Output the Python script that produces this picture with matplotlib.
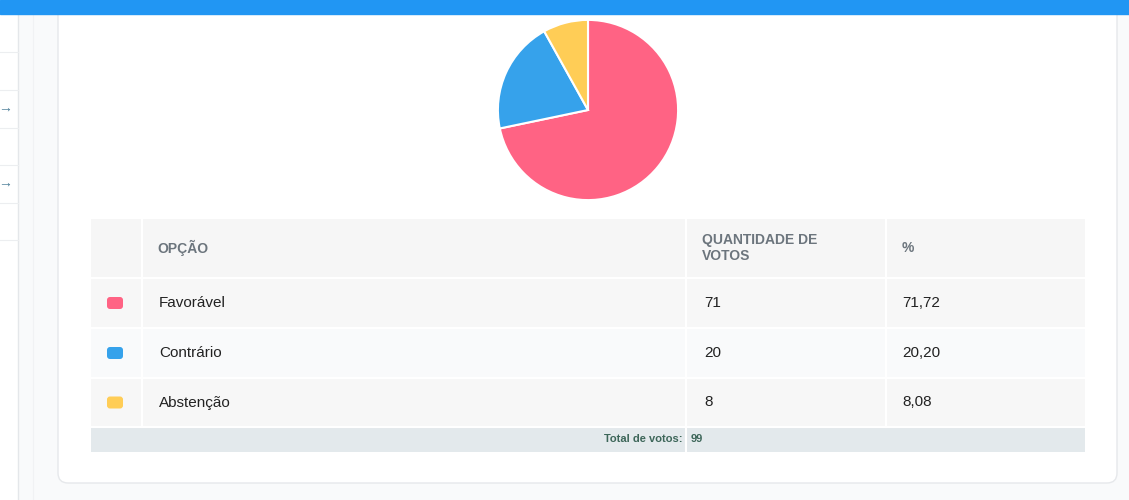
import matplotlib.pyplot as plt
from matplotlib.patches import Rectangle, FancyBboxPatch

# dados da votação
opcoes = ['Favorável', 'Contrário', 'Abstenção']
votos = [71, 20, 8]
cores = ['#FF6384', '#36A2EB', '#FFCD56']
cabecalhos = ['OPÇÃO', 'QUANTIDADE DE\nVOTOS', '%']
rotulo_total = 'Total de votos:'

total = sum(votos)
percentuais = [f'{v / total * 100:.2f}'.replace('.', ',') for v in votos]

plt.rcParams['font.family'] = ['Liberation Sans', 'DejaVu Sans']

W, H = 1129, 500
fig = plt.figure(figsize=(W / 100, H / 100), dpi=100)
fig.patch.set_facecolor('#f9fafb')

# fundo em coordenadas de pixel
bg = fig.add_axes([0, 0, 1, 1])
bg.set_xlim(0, W)
bg.set_ylim(H, 0)
bg.axis('off')

# barra azul do topo
bg.add_patch(Rectangle((0, 0), W, 14, color='#2196F3', zorder=5))

# barra lateral
bg.add_patch(Rectangle((0, 14), 18, H, color='#ffffff', zorder=1))
bg.plot([18, 18], [14, H], color='#e4e7ea', lw=1, zorder=2)
bg.plot([33, 33], [14, H], color='#f1f2f4', lw=0.8, zorder=2)
for yy in [52, 90, 128, 165, 203, 240]:
    bg.plot([0, 18], [yy, yy], color='#eceef0', lw=0.8, zorder=2)
for yy in [108, 183]:
    bg.text(5, yy, '→', ha='center', va='center', fontsize=10, fontweight='bold',
            color='#4d7f99', zorder=3)

# cartão
card = FancyBboxPatch((58, -20), 1059, 503, boxstyle='round,pad=0,rounding_size=10',
                      facecolor='#ffffff', edgecolor='#e6e8eb', lw=1, zorder=1)
bg.add_patch(card)

# tabela
x0, x1 = 91, 1085
col_x = [91, 142, 686, 886, 1085]
row_y = [219, 278, 328, 378, 427, 452]
fundo_linhas = ['#f6f6f6', '#f7f7f7', '#f9fafb', '#f7f7f7']
for i in range(4):
    bg.add_patch(Rectangle((x0, row_y[i]), x1 - x0, row_y[i + 1] - row_y[i],
                           facecolor=fundo_linhas[i], edgecolor='none', zorder=2))
bg.add_patch(Rectangle((x0, row_y[4]), x1 - x0, row_y[5] - row_y[4],
                       facecolor='#e3e9ec', edgecolor='none', zorder=2))
for yy in row_y[1:5]:
    bg.plot([x0, x1], [yy, yy], color='#ffffff', lw=1.5, zorder=3)
for xx in col_x[1:4]:
    bg.plot([xx, xx], [row_y[0], row_y[4]], color='#ffffff', lw=1.5, zorder=3)
bg.plot([col_x[2], col_x[2]], [row_y[4], row_y[5]], color='#ffffff', lw=1.5, zorder=3)

# cabeçalho
cab_x = [157, 702, 902]
for cx, txt in zip(cab_x, cabecalhos):
    bg.text(cx, 248, txt, ha='left', va='center', fontsize=10, fontweight='bold',
            color='#6c757d', linespacing=1.1, zorder=4)

# linhas de dados
for i, (op, v, p, c) in enumerate(zip(opcoes, votos, percentuais, cores)):
    yc = (row_y[i + 1] + row_y[i + 2]) / 2
    bg.add_patch(FancyBboxPatch((107, yc - 6), 16, 12, boxstyle='round,pad=0,rounding_size=3',
                                facecolor=c, edgecolor='none', zorder=4))
    bg.text(159, yc, op, ha='left', va='center', fontsize=11, color='#222222', zorder=4)
    bg.text(704, yc, str(v), ha='left', va='center', fontsize=11, color='#222222', zorder=4)
    bg.text(902, yc, p, ha='left', va='center', fontsize=11, color='#222222', zorder=4)

# linha do total
yt = (row_y[4] + row_y[5]) / 2
bg.text(682, yt, rotulo_total, ha='right', va='center', fontsize=8, fontweight='bold',
        color='#3d6659', zorder=4)
bg.text(691, yt, str(total), ha='left', va='center', fontsize=8, fontweight='bold',
        color='#3d6659', zorder=4)

# gráfico de pizza
cx, cy, r = 588, 110, 91
pie_ax = fig.add_axes([(cx - r) / W, 1 - (cy + r) / H, 2 * r / W, 2 * r / H])
pie_ax.pie(votos, colors=cores, startangle=90, counterclock=False,
           wedgeprops=dict(edgecolor='white', linewidth=1.5))
pie_ax.set_xlim(-1.01, 1.01)
pie_ax.set_ylim(-1.01, 1.01)

fig.savefig('out.png', dpi=100)
